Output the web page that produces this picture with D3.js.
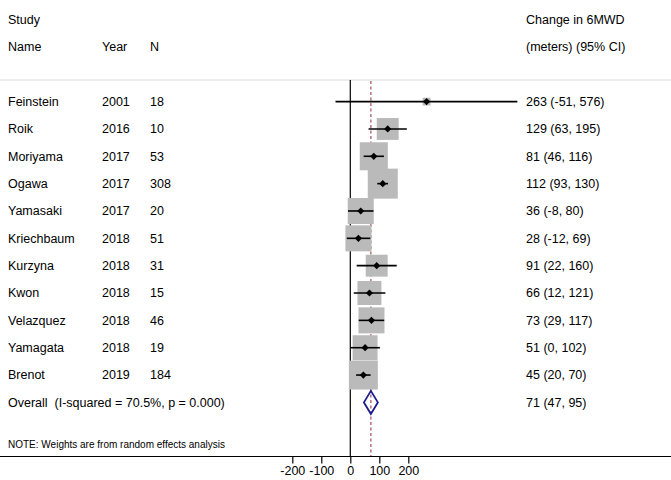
<!DOCTYPE html>
<html>
<head>
  <meta charset="utf-8">
  <script src="https://cdn.jsdelivr.net/npm/d3@7"></script>
  <style>
    body { margin: 0; background: #fff; }
    text { font-family: "Liberation Sans", Arial, Helvetica, sans-serif; fill: #000; white-space: pre; }
  </style>
</head>
<body>
<script>
  // study data
  var names = ["Feinstein", "Roik", "Moriyama", "Ogawa", "Yamasaki", "Kriechbaum",
               "Kurzyna", "Kwon", "Velazquez", "Yamagata", "Brenot"];
  var years = [2001, 2016, 2017, 2017, 2017, 2018, 2018, 2018, 2018, 2018, 2019];
  var ns    = [18, 10, 53, 308, 20, 51, 31, 15, 46, 19, 184];
  var est   = [263, 129, 81, 112, 36, 28, 91, 66, 73, 51, 45];
  var lo    = [-51, 63, 46, 93, -8, -12, 22, 12, 29, 0, 20];
  var hi    = [576, 195, 116, 130, 80, 69, 160, 121, 117, 102, 70];
  // approximate random-effects weights (%) judged from box sizes
  var weights = [0.9, 7.1, 11.6, 13.3, 10.0, 10.0, 7.1, 8.5, 10.0, 9.2, 12.4];

  var overall = {est: 71, lo: 47, hi: 95, label: "Overall  (I-squared = 70.5%, p = 0.000)"};
  var ticks = [-200, -100, 0, 100, 200];

  var W = 671, H = 480;
  var svg = d3.select("body").append("svg").attr("width", W).attr("height", H);

  var x = d3.scaleLinear().domain([-200, 200]).range([292.3, 408.3]);
  var rows = names.concat(["Overall"]);
  var y = d3.scalePoint().domain(rows).range([101.6, 402.4]);
  var boxSize = d3.scaleSqrt().domain([0, 13.3]).range([0, 30]);

  var fs = "12.5px";

  // header
  function txt(xp, yp, s, size) {
    svg.append("text").attr("x", xp).attr("y", yp).attr("dy", "0.35em")
      .style("font-size", size || fs).text(s);
  }
  txt(8, 20, "Study");
  txt(8, 47, "Name");
  txt(102, 47, "Year");
  txt(150, 47, "N");
  txt(526, 20, "Change in 6MWD");
  txt(526, 47, "(meters) (95% CI)");

  // top rule
  svg.append("line").attr("x1", 0).attr("x2", W).attr("y1", 80).attr("y2", 80)
    .attr("stroke", "#dcdcdc").attr("stroke-width", 1);

  var axisY = 456.5;

  // reference lines
  svg.append("line").attr("x1", x(0)).attr("x2", x(0)).attr("y1", 80).attr("y2", axisY)
    .attr("stroke", "#000").attr("stroke-width", 1.2);
  svg.append("line").attr("x1", x(overall.est)).attr("x2", x(overall.est))
    .attr("y1", 81).attr("y2", axisY)
    .attr("stroke", "#a0505a").attr("stroke-width", 1.2).attr("stroke-dasharray", "3,2.5");

  var data = names.map(function(d, i) {
    return {name: d, year: years[i], n: ns[i], est: est[i], lo: lo[i], hi: hi[i], w: weights[i]};
  });

  var g = svg.append("g").selectAll("g").data(data).enter().append("g");

  g.append("rect")
    .attr("x", function(d) { return x(d.est) - boxSize(d.w) / 2; })
    .attr("y", function(d) { return y(d.name) - boxSize(d.w) / 2; })
    .attr("width", function(d) { return boxSize(d.w); })
    .attr("height", function(d) { return boxSize(d.w); })
    .attr("fill", "#bababa");

  g.append("line")
    .attr("x1", function(d) { return x(d.lo); })
    .attr("x2", function(d) { return x(d.hi); })
    .attr("y1", function(d) { return y(d.name); })
    .attr("y2", function(d) { return y(d.name); })
    .attr("stroke", "#000").attr("stroke-width", 1.6);

  g.append("path")
    .attr("d", function(d) {
      var cx = x(d.est), cy = y(d.name), r = 3.6;
      return "M" + (cx - r) + "," + cy + "L" + cx + "," + (cy - r) + "L" + (cx + r) + "," + cy + "L" + cx + "," + (cy + r) + "Z";
    })
    .attr("fill", "#000");

  g.append("text").attr("x", 8).attr("y", function(d) { return y(d.name); }).attr("dy", "0.35em")
    .style("font-size", fs).text(function(d) { return d.name; });
  g.append("text").attr("x", 102).attr("y", function(d) { return y(d.name); }).attr("dy", "0.35em")
    .style("font-size", fs).text(function(d) { return d.year; });
  g.append("text").attr("x", 150).attr("y", function(d) { return y(d.name); }).attr("dy", "0.35em")
    .style("font-size", fs).text(function(d) { return d.n; });
  g.append("text").attr("x", 526).attr("y", function(d) { return y(d.name); }).attr("dy", "0.35em")
    .style("font-size", fs).text(function(d) { return d.est + " (" + d.lo + ", " + d.hi + ")"; });

  // overall diamond
  var oy = y("Overall");
  svg.append("path")
    .attr("d", "M" + x(overall.lo) + "," + oy + "L" + x(overall.est) + "," + (oy - 11.5) +
               "L" + x(overall.hi) + "," + oy + "L" + x(overall.est) + "," + (oy + 11.5) + "Z")
    .attr("fill", "none").attr("stroke", "#1c1c8c").attr("stroke-width", 1.8);
  txt(8, oy, overall.label);
  txt(526, oy, overall.est + " (" + overall.lo + ", " + overall.hi + ")");

  txt(8, 444, "NOTE: Weights are from random effects analysis", "10px");

  // bottom axis
  svg.append("line").attr("x1", 0).attr("x2", W).attr("y1", axisY).attr("y2", axisY)
    .attr("stroke", "#000").attr("stroke-width", 1.2);
  var ax = svg.append("g").attr("transform", "translate(0," + axisY + ")")
    .call(d3.axisBottom(x).tickValues(ticks).tickSize(7).tickPadding(3)
      .tickFormat(function(d) { return String(d); }));
  ax.select(".domain").remove();
  ax.selectAll("line").attr("stroke", "#000").attr("stroke-width", 1.2);
  ax.selectAll("text").style("font-size", fs).style("font-family", "'Liberation Sans', Arial, sans-serif").attr("fill", "#000");
</script>
</body>
</html>
